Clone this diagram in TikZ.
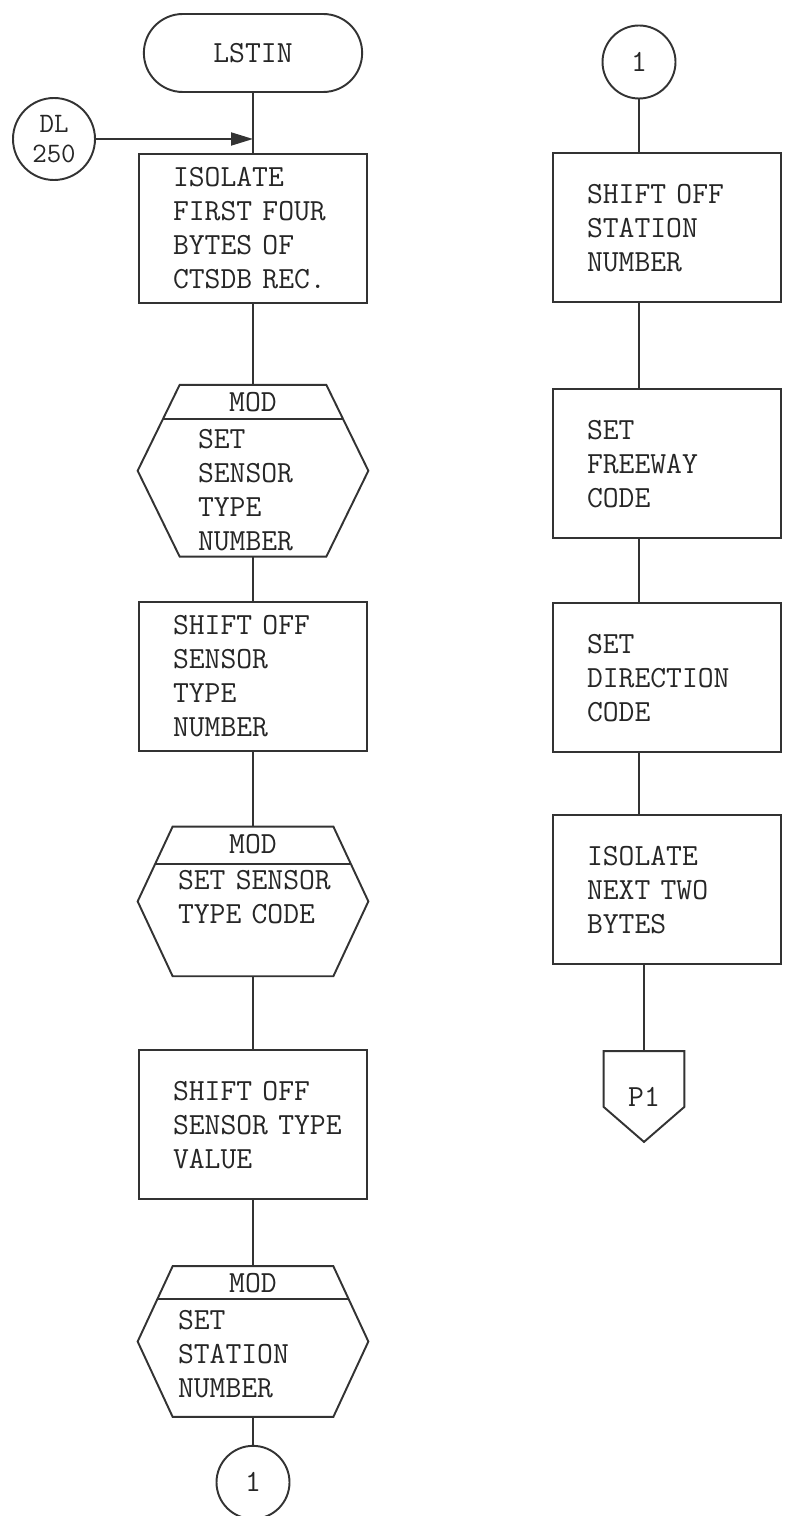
\documentclass[tikz,border=0pt]{standalone}
\usetikzlibrary{positioning,arrows.meta,shapes.misc,calc}

\begin{document}
\begin{tikzpicture}[
        font=\ttfamily\fontsize{17.5}{19.3}\selectfont,
        every node/.style={text=black!85},
        outline/.style={draw=black!80,line width=1.1pt},
        link/.style={draw=black!80,line width=1.1pt},
        flow/.style={link,-{Triangle[length=4.4mm,width=2.6mm]}},
        terminal/.style={rounded rectangle,outline,minimum width=46mm,minimum height=15.6mm},
        procbox/.style={rectangle,outline,minimum width=45.6mm,minimum height=29.8mm,text width=42mm,
            inner xsep=1mm,inner ysep=1mm,align=left,execute at begin node={\leftskip=5mm}},
        modhex/.style={rectangle,inner ysep=0pt,inner xsep=1mm,minimum width=46mm,text width=42mm,align=left,
            text height=12.6mm,text depth=#1,execute at begin node={\leftskip=6mm},
            label={[anchor=north,yshift=-1.4mm,inner sep=0pt]north:MOD}},
        connector/.style={circle,outline,minimum size=14.6mm,inner sep=0pt,align=center},
        offpage/.style={rectangle,minimum width=16mm,minimum height=18mm,inner sep=0pt}]
    \useasboundingbox (0,0) rectangle (15.7,-30.32);

    % left column
    \node[terminal] (lstin) at (5.06,-1.06) {LSTIN};
    \node[connector,minimum size=16.4mm,font=\ttfamily\fontsize{16}{17.5}\selectfont] (dl250) at (1.08,-2.78) {DL\\250};
    \node[procbox,below=1.2cm of lstin] (isolfour) {ISOLATE\\FIRST FOUR\\BYTES OF\\CTSDB REC.};
    \node[modhex=21.6mm,below=1.62cm of isolfour,execute at begin node={\leftskip=10mm}] (modA) {SET\\SENSOR\\TYPE\\NUMBER};
    \node[procbox,below=0.88cm of modA] (shiftsens) {SHIFT OFF\\SENSOR\\TYPE\\NUMBER};
    \node[modhex=17.2mm,below=1.5cm of shiftsens] (modB) {SET SENSOR\\TYPE CODE};
    \node[procbox,below=1.46cm of modB] (shiftval) {SHIFT OFF\\SENSOR TYPE\\VALUE};
    \node[modhex=17.4mm,below=1.32cm of shiftval] (modC) {SET\\STATION\\NUMBER};
    \node[connector,below=0.56cm of modC] (onebot) {1};

    % right column
    \node[connector] (onetop) at (12.78,-1.24) {1};
    \node[procbox,below=1.06cm of onetop,xshift=5.6mm] (shiftstat) {SHIFT OFF\\STATION\\NUMBER};
    \node[procbox,below=1.7cm of shiftstat] (setfwy) {SET\\FREEWAY\\CODE};
    \node[procbox,below=1.26cm of setfwy] (setdir) {SET\\DIRECTION\\CODE};
    \node[procbox,below=1.22cm of setdir] (isolnext) {ISOLATE\\NEXT TWO\\BYTES};
    \node[offpage,below=1.72cm of isolnext,xshift=-4.6mm] (pone) {P1};

    % hexagon outlines with the MOD band
    \foreach \hexname/\hexin/\hexcut in {modA/0.84/0.4,modB/0.7/0.5,modC/0.7/0.44} {
        \draw[outline] ([xshift=\hexin cm]\hexname.north west) -- ([xshift=-\hexin cm]\hexname.north east)
            -- (\hexname.east) -- ([xshift=-\hexin cm]\hexname.south east)
            -- ([xshift=\hexin cm]\hexname.south west) -- (\hexname.west) -- cycle;
        \draw[outline] ($([xshift=\hexin cm]\hexname.north west)!\hexcut!(\hexname.west)$)
            -- ($([xshift=-\hexin cm]\hexname.north east)!\hexcut!(\hexname.east)$);
    }
    \draw[outline] (pone.north west) -- (pone.north east) -- ([yshift=7mm]pone.south east)
        -- (pone.south) -- ([yshift=7mm]pone.south west) -- cycle;

    % flow lines
    \foreach \from/\to in {lstin/isolfour,isolfour/modA,modA/shiftsens,shiftsens/modB,modB/shiftval,shiftval/modC,modC/onebot}
        \draw[link] (\from) -- (\to);
    \coordinate (entry) at (lstin |- dl250);
    \draw[flow] (dl250) -- (entry);
    \draw[link] (onetop) -- (onetop |- shiftstat.north);
    \foreach \from/\to in {shiftstat/setfwy,setfwy/setdir,setdir/isolnext}
        \draw[link] (\from.south -| onetop) -- (\to.north -| onetop);
    \draw[link] (isolnext.south -| pone) -- (pone);
\end{tikzpicture}
\end{document}
